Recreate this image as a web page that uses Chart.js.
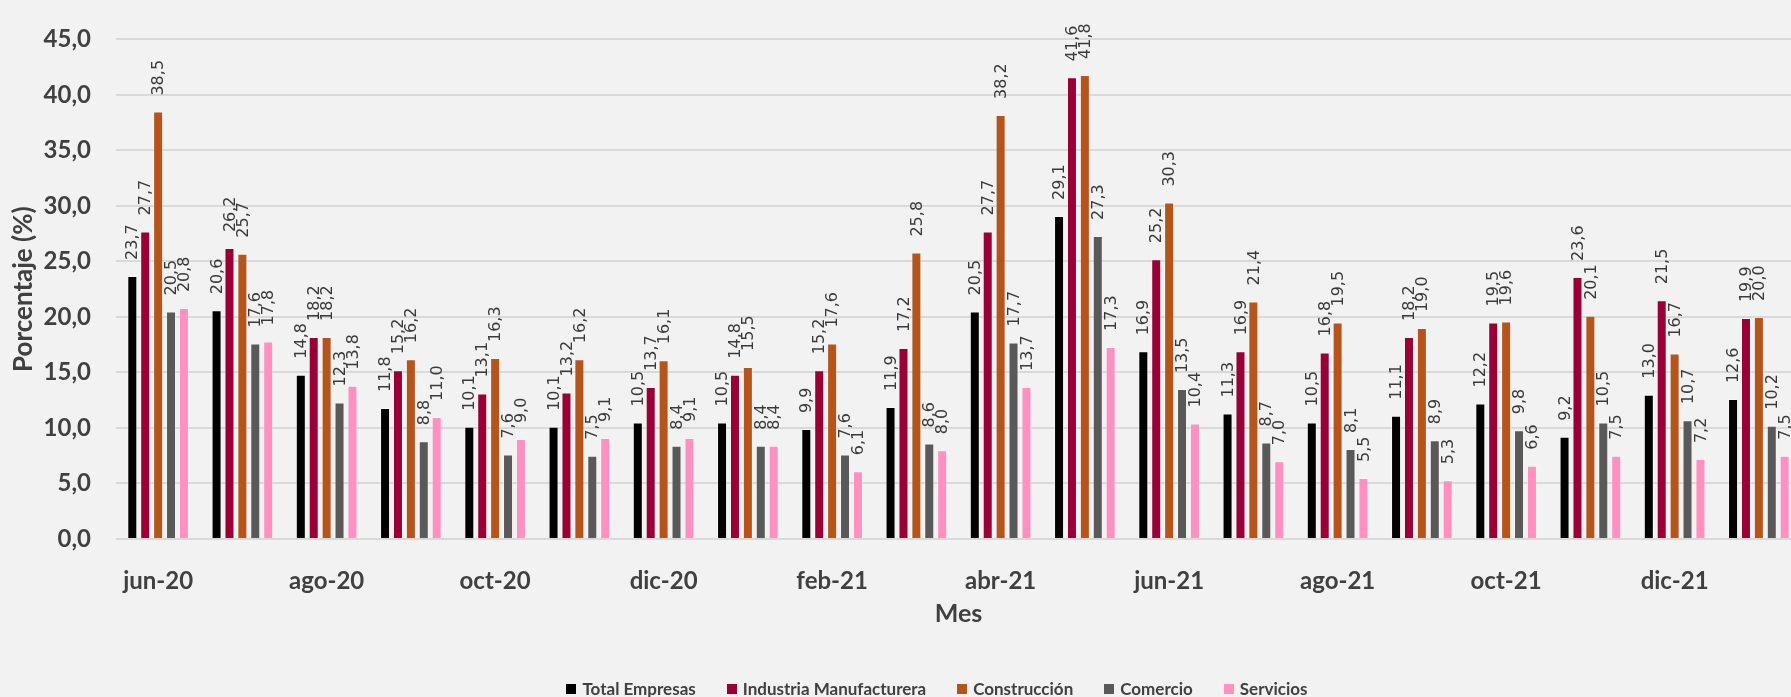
<!DOCTYPE html>
<html lang="es">
<head>
<meta charset="utf-8">
<title>Porcentaje por sector</title>
<script src="https://cdn.jsdelivr.net/npm/chart.js@4.4.1/dist/chart.umd.min.js"></script>
<style>
    html, body { margin: 0; padding: 0; background: #F2F2F2; overflow: hidden; }
    #contenedor { position: relative; width: 1791px; height: 697px; overflow: hidden; }
    #grafico { position: absolute; left: 0; top: 0; }
    #leyenda {
        position: absolute; left: 0; top: 678px; width: 1874px;
        display: flex; justify-content: center; gap: 31px;
        font: bold 17px Lato, sans-serif; color: #404040; line-height: 21px;
    }
    #leyenda span.item { display: flex; align-items: center; gap: 6px; }
    #leyenda span.caja { display: inline-block; width: 10px; height: 10px; }
</style>
</head>
<body>
<div id="contenedor">
    <canvas id="grafico" width="1802" height="697" style="width:1802px;height:697px"></canvas>
    <div id="leyenda"></div>
</div>
<script>
const meses = ['jun-20', 'jul-20', 'ago-20', 'sep-20', 'oct-20', 'nov-20', 'dic-20', 'ene-21', 'feb-21', 'mar-21',
               'abr-21', 'may-21', 'jun-21', 'jul-21', 'ago-21', 'sep-21', 'oct-21', 'nov-21', 'dic-21', 'ene-22'];

const totalEmpresas = [23.7, 20.6, 14.8, 11.8, 10.1, 10.1, 10.5, 10.5, 9.9, 11.9, 20.5, 29.1, 16.9, 11.3, 10.5, 11.1, 12.2, 9.2, 13.0, 12.6];
const industria     = [27.7, 26.2, 18.2, 15.2, 13.1, 13.2, 13.7, 14.8, 15.2, 17.2, 27.7, 41.6, 25.2, 16.9, 16.8, 18.2, 19.5, 23.6, 21.5, 19.9];
const construccion  = [38.5, 25.7, 18.2, 16.2, 16.3, 16.2, 16.1, 15.5, 17.6, 25.8, 38.2, 41.8, 30.3, 21.4, 19.5, 19.0, 19.6, 20.1, 16.7, 20.0];
const comercio      = [20.5, 17.6, 12.3, 8.8, 7.6, 7.5, 8.4, 8.4, 7.6, 8.6, 17.7, 27.3, 13.5, 8.7, 8.1, 8.9, 9.8, 10.5, 10.7, 10.2];
const servicios     = [20.8, 17.8, 13.8, 11.0, 9.0, 9.1, 9.1, 8.4, 6.1, 8.0, 13.7, 17.3, 10.4, 7.0, 5.5, 5.3, 6.6, 7.5, 7.2, 7.5];

const sectores = ['Total Empresas', 'Industria Manufacturera', 'Construcción', 'Comercio', 'Servicios'];
const colores  = ['#000000', '#990036', '#B5541B', '#595959', '#FF91C1'];
const series   = [totalEmpresas, industria, construccion, comercio, servicios];

const yMin = 0;
const yMax = 45;
const yPaso = 5;

// 12.3 -> "12,3"
function formato(v) {
    return Number(v).toFixed(1).replace('.', ',');
}

// Value labels, rotated, drawn above each bar
const etiquetasValor = {
    id: 'etiquetasValor',
    afterDatasetsDraw(chart) {
        const ctx = chart.ctx;
        ctx.save();
        ctx.font = '16px "DejaVu Sans"';
        ctx.fillStyle = '#3A3A3A';
        ctx.textAlign = 'left';
        ctx.textBaseline = 'middle';
        chart.data.datasets.forEach(function(ds, i) {
            chart.getDatasetMeta(i).data.forEach(function(bar, j) {
                ctx.save();
                ctx.translate(bar.x + 1, bar.y - 16);
                ctx.rotate(-Math.PI / 2);
                ctx.fillText(formato(ds.data[j]), 0, 0);
                ctx.restore();
            });
        });
        ctx.restore();
    }
};

const ctx = document.getElementById('grafico').getContext('2d');
new Chart(ctx, {
    type: 'bar',
    data: {
        labels: meses,
        datasets: sectores.map(function(nombre, i) {
            return {
                label: nombre,
                data: series[i],
                backgroundColor: colores[i],
                borderColor: 'rgba(255,255,255,0.35)',
                borderWidth: 1,
                categoryPercentage: 0.766,
                barPercentage: 0.775
            };
        })
    },
    options: {
        responsive: false,
        animation: false,
        layout: { padding: { top: 24, right: 1, left: 0, bottom: 0 } },
        plugins: {
            legend: { display: false },
            tooltip: { enabled: false }
        },
        scales: {
            x: {
                grid: { display: false },
                border: { display: false },
                ticks: {
                    autoSkip: false,
                    maxRotation: 0,
                    padding: 20,
                    color: '#404040',
                    font: { family: 'Lato', size: 24, weight: 'bold' },
                    callback: function(v, i) { return i % 2 === 0 ? meses[i] : ''; }
                },
                title: {
                    display: true,
                    text: 'Mes',
                    color: '#404040',
                    font: { family: 'Lato', size: 25, weight: 'bold' },
                    padding: { top: 0, bottom: 68 }
                },
                afterFit: function(scale) { scale.height = 158; }
            },
            y: {
                min: yMin,
                max: yMax,
                grid: { color: '#D9D9D9', lineWidth: 2, drawTicks: false },
                border: { display: false },
                ticks: {
                    stepSize: yPaso,
                    padding: 25,
                    color: '#404040',
                    font: { family: 'Lato', size: 24, weight: 'bold' },
                    callback: function(v) { return formato(v); }
                },
                title: {
                    display: true,
                    text: 'Porcentaje (%)',
                    color: '#404040',
                    font: { family: 'Lato', size: 26, weight: 'bold' },
                    padding: { top: 8, bottom: 0 }
                },
                afterFit: function(scale) { scale.width = 116; }
            }
        }
    },
    plugins: [etiquetasValor]
});

// Legend under the chart
const leyenda = document.getElementById('leyenda');
sectores.forEach(function(nombre, i) {
    const item = document.createElement('span');
    item.className = 'item';
    const caja = document.createElement('span');
    caja.className = 'caja';
    caja.style.background = colores[i];
    item.appendChild(caja);
    item.appendChild(document.createTextNode(nombre));
    leyenda.appendChild(item);
});
</script>
</body>
</html>
